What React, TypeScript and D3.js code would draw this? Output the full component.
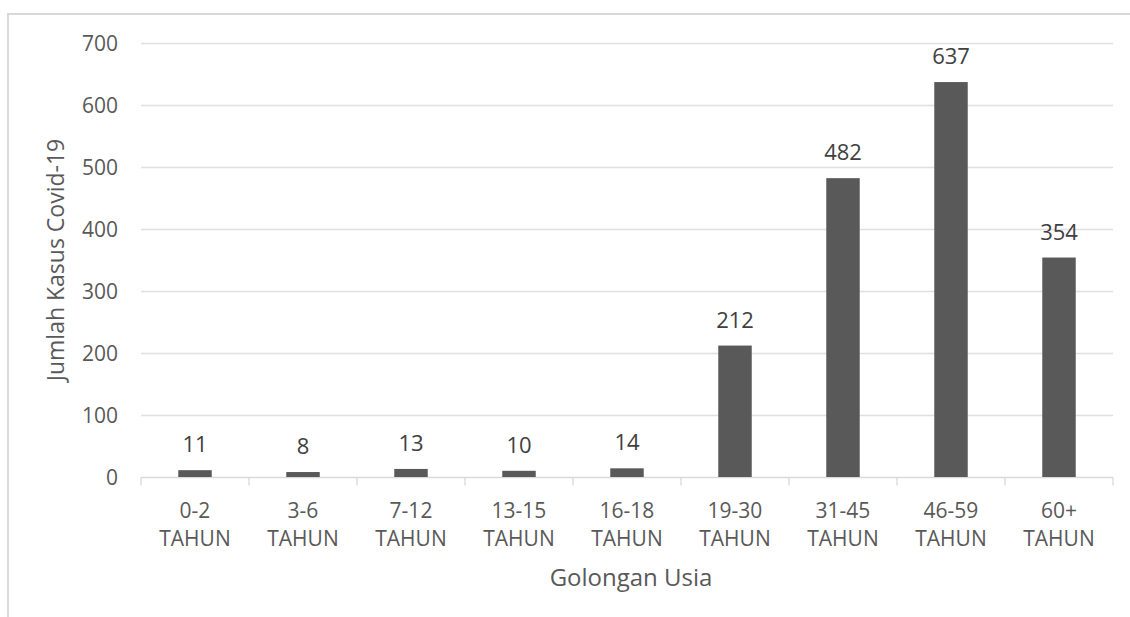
import React, { useEffect, useRef } from 'react'
import * as d3 from 'd3'

const ageGroups = ['0-2', '3-6', '7-12', '13-15', '16-18', '19-30', '31-45', '46-59', '60+']
const caseCounts = [11, 8, 13, 10, 14, 212, 482, 637, 354]
const yTicks = [0, 100, 200, 300, 400, 500, 600, 700]

const W = 1130
const H = 617
const margin = { top: 43, right: 17, bottom: 140, left: 141 }
const FONT = '"Open Sans", "Liberation Sans", sans-serif'
const TEXT = '#595959'
const FS = 21

const App = () => {
  const svgRef = useRef<SVGSVGElement>(null)

  useEffect(() => {
    const svg = d3.select(svgRef.current)
    svg.selectAll('*').remove()

    const x = d3.scaleBand()
      .domain(ageGroups)
      .range([margin.left, W - margin.right])
      .paddingInner(0.69)
      .paddingOuter(0.345)

    const y = d3.scaleLinear()
      .domain([0, 700])
      .range([H - margin.bottom, margin.top])

    // outer chart frame (clipped at right/bottom)
    svg.append('rect')
      .attr('x', 8).attr('y', 14)
      .attr('width', W + 20).attr('height', H + 20)
      .attr('fill', 'none')
      .attr('stroke', '#d9d9d9')
      .attr('stroke-width', 2)

    // gridlines
    svg.append('g')
      .selectAll('line')
      .data(yTicks.filter(t => t > 0))
      .join('line')
      .attr('x1', margin.left).attr('x2', W - margin.right)
      .attr('y1', d => Math.round(y(d)) + 0.5).attr('y2', d => Math.round(y(d)) + 0.5)
      .attr('stroke', '#e0e0e0')
      .attr('stroke-width', 1.3)

    // y tick labels
    svg.append('g')
      .selectAll('text')
      .data(yTicks)
      .join('text')
      .attr('x', 118)
      .attr('y', d => y(d))
      .attr('dy', '0.36em')
      .attr('text-anchor', 'end')
      .attr('font-family', FONT)
      .attr('font-size', FS)
      .attr('fill', TEXT)
      .text(d => d)

    // x axis baseline + ticks
    const base = Math.round(y(0)) + 0.5
    const step = x.step()
    const axis = svg.append('g').attr('stroke', '#d9d9d9').attr('stroke-width', 1.3)
    axis.append('line')
      .attr('x1', margin.left).attr('x2', W - margin.right)
      .attr('y1', base).attr('y2', base)
    axis.selectAll('line.tick')
      .data(d3.range(ageGroups.length + 1))
      .join('line')
      .attr('class', 'tick')
      .attr('x1', i => margin.left + i * step).attr('x2', i => margin.left + i * step)
      .attr('y1', base).attr('y2', base + 8)

    // bars
    svg.append('g')
      .selectAll('rect')
      .data(caseCounts)
      .join('rect')
      .attr('x', (d, i) => x(ageGroups[i])!)
      .attr('y', d => y(d))
      .attr('width', x.bandwidth())
      .attr('height', d => y(0) - y(d))
      .attr('fill', '#595959')

    // value labels
    svg.append('g')
      .selectAll('text')
      .data(caseCounts)
      .join('text')
      .attr('x', (d, i) => x(ageGroups[i])! + x.bandwidth() / 2)
      .attr('y', d => y(d) - 18)
      .attr('text-anchor', 'middle')
      .attr('font-family', FONT)
      .attr('font-size', 22)
      .attr('fill', '#404040')
      .text(d => d)

    // category labels
    const cat = svg.append('g')
      .selectAll('text')
      .data(ageGroups)
      .join('text')
      .attr('text-anchor', 'middle')
      .attr('font-family', FONT)
      .attr('font-size', FS)
      .attr('fill', TEXT)
    cat.append('tspan')
      .attr('x', d => x(d)! + x.bandwidth() / 2)
      .attr('y', 518)
      .text(d => d)
    cat.append('tspan')
      .attr('x', d => x(d)! + x.bandwidth() / 2)
      .attr('y', 546)
      .text('TAHUN')

    // axis titles
    svg.append('text')
      .attr('x', 631)
      .attr('y', 586)
      .attr('text-anchor', 'middle')
      .attr('font-family', FONT)
      .attr('font-size', 24)
      .attr('fill', TEXT)
      .text('Golongan Usia')

    svg.append('text')
      .attr('transform', 'translate(64, 260) rotate(-90)')
      .attr('text-anchor', 'middle')
      .attr('font-family', FONT)
      .attr('font-size', 23)
      .attr('fill', TEXT)
      .text('Jumlah Kasus Covid-19')
  }, [])

  return (
    <svg
      ref={svgRef}
      width={W}
      height={H}
      style={{ position: 'absolute', left: 0, top: 0, background: '#fff' }}
    />
  )
}

export default App
